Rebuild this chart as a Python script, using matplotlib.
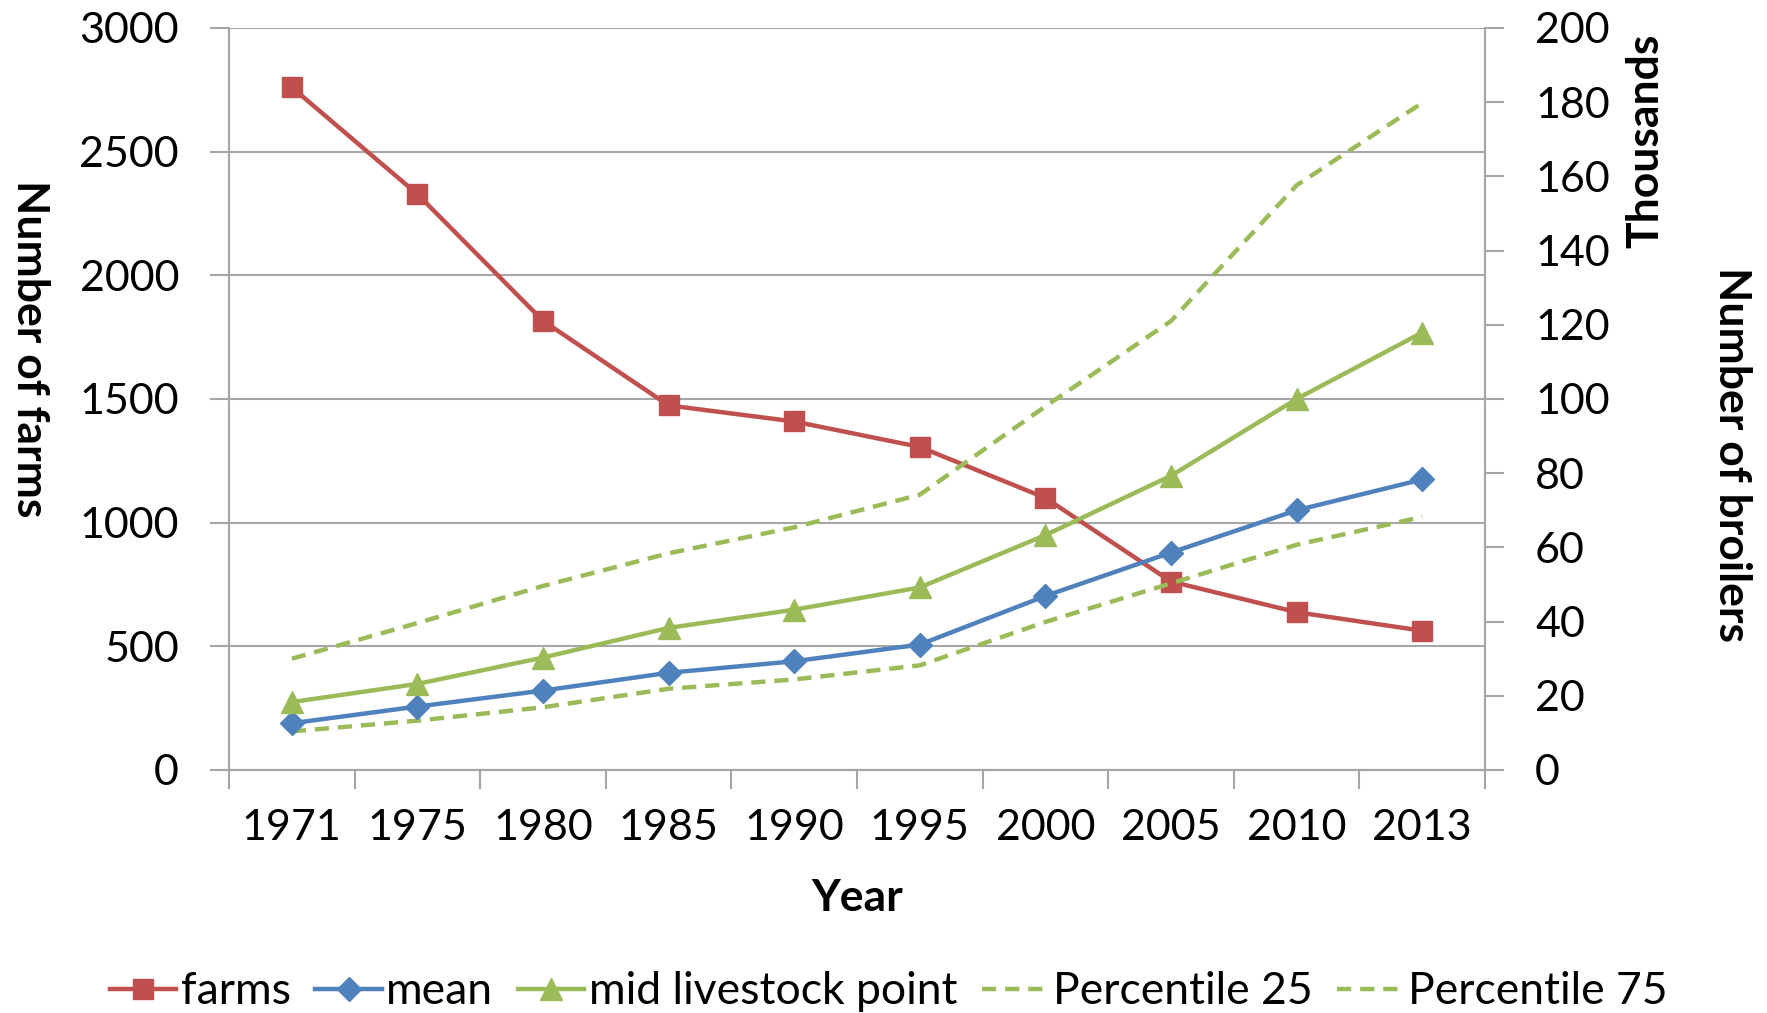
import matplotlib
matplotlib.use("Agg")
import matplotlib.pyplot as plt
from matplotlib.ticker import FixedLocator

plt.rcParams['font.family'] = ['Lato', 'DejaVu Sans']

years = ["1971", "1975", "1980", "1985", "1990", "1995", "2000", "2005", "2010", "2013"]
farms = [2760, 2328, 1816, 1474, 1409, 1306, 1100, 762, 638, 563]
mean = [12.6, 17.1, 21.4, 26.2, 29.3, 33.8, 46.9, 58.6, 70.0, 78.3]
mid_livestock = [18.3, 23.2, 30.3, 38.3, 43.2, 49.2, 63.3, 79.3, 100.0, 117.9]
p25 = [10.4, 13.3, 16.9, 21.9, 24.4, 28.2, 39.9, 50.3, 60.7, 68.2]
p75 = [30.0, 39.6, 49.6, 58.4, 65.4, 74.2, 98.0, 121.0, 157.6, 179.8]

RED = "#C0504D"
BLUE = "#4F81BD"
GREEN = "#9BBB59"
GRID = "#A6A6A6"
FS = 31
FSB = 32

fig = plt.figure(figsize=(17.67, 10.13), dpi=100)
ax = fig.add_axes([0.1296, 0.2399, 0.8404 - 0.1296, 0.9724 - 0.2399])
ax2 = ax.twinx()

x = list(range(len(years)))

l_farms, = ax.plot(x, farms, color=RED, lw=3.2, marker='s', ms=14, label="farms", zorder=5)
l_mean, = ax2.plot(x, mean, color=BLUE, lw=3.2, marker='D', ms=12, label="mean", zorder=5)
l_mid, = ax2.plot(x, mid_livestock, color=GREEN, lw=3.2, marker='^', ms=16, label="mid livestock point", zorder=5)
l_p25, = ax2.plot(x, p25, color=GREEN, lw=3.2, ls=(0, (3.2, 2)), label="Percentile 25", zorder=4)
l_p75, = ax2.plot(x, p75, color=GREEN, lw=3.2, ls=(0, (3.2, 2)), label="Percentile 75", zorder=4)

ax.set_xlim(-0.5, len(years) - 0.5)
ax.set_ylim(0, 3000)
ax2.set_ylim(0, 200)
ax.set_yticks(range(0, 3001, 500))
ax2.set_yticks(range(0, 201, 20))

ax.set_xticks(x)
ax.set_xticklabels(years, fontsize=FS)
ax.tick_params(axis='x', which='major', length=0, pad=28)
ax.xaxis.set_minor_locator(FixedLocator([i - 0.5 for i in range(len(years) + 1)]))
ax.tick_params(axis='x', which='minor', length=14, width=1.5, color=GRID, direction='out')

ax.tick_params(axis='y', labelsize=FS, length=14, width=1.5, color=GRID, pad=22)
ax2.tick_params(axis='y', labelsize=FS, length=14, width=1.5, color=GRID, pad=22)

ax.yaxis.grid(True, color=GRID, lw=1.5)
ax.set_axisbelow(True)

for a in (ax, ax2):
    a.spines['top'].set_visible(False)
    for s in ('left', 'right', 'bottom'):
        a.spines[s].set_color(GRID)
        a.spines[s].set_linewidth(1.5)

fig.text(0.017, 0.656, "Number of farms", rotation=270, ha='center', va='center',
         fontsize=FSB, fontweight='bold')
fig.text(0.931, 0.861, "Thousands", rotation=90, ha='center', va='center',
         fontsize=FSB, fontweight='bold')
fig.text(0.980, 0.551, "Number of broilers", rotation=270, ha='center', va='center',
         fontsize=FSB, fontweight='bold')
fig.text(0.485, 0.114, "Year", ha='center', va='center', fontsize=FSB, fontweight='bold')

fig.legend(handles=[l_farms, l_mean, l_mid, l_p25, l_p75], loc='center',
           bbox_to_anchor=(0.503, 0.021), ncol=5, frameon=False, fontsize=FSB,
           handlelength=1.5, handletextpad=0.1, columnspacing=0.55, borderaxespad=0)

fig.savefig("out.png", dpi=100)
